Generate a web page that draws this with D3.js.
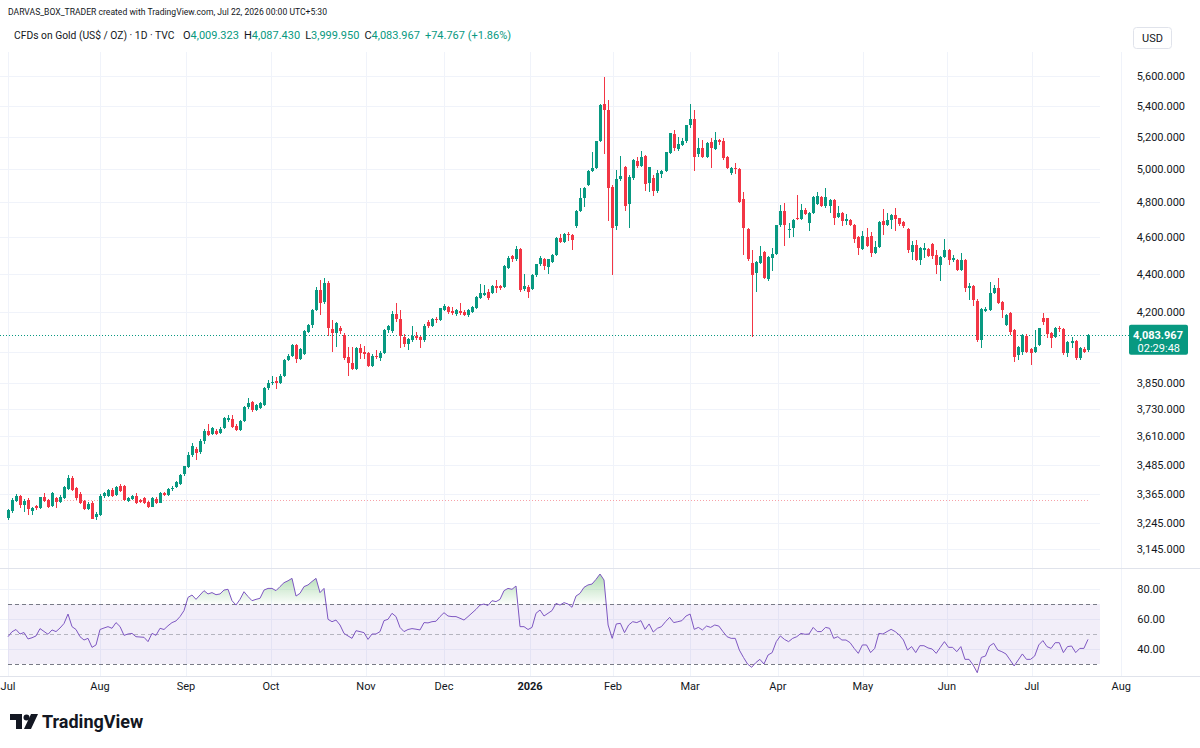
<!DOCTYPE html>
<html><head><meta charset="utf-8">
<script src="https://cdn.jsdelivr.net/npm/d3@7"></script>
<style>
html,body{margin:0;padding:0;background:#fff;}
svg{display:block;font-family:Roboto,"Liberation Sans","Noto Sans",sans-serif;}
</style></head><body>
<svg id="c" width="1200" height="748"></svg>
<script>
// ---------- DATA ----------
const opens=[3268,3295,3335,3353,3318,3337,3296,3314,3308,3349,3339,3315,3345,3332,3346,3385,3428,3386,3365,3335,3302,3325,3270,3280,3353,3356,3380,3359,3396,3398,3335,3342,3355,3338,3345,3330,3312,3342,3328,3367,3360,3382,3394,3404,3445,3476,3528,3555,3540,3590,3634,3620,3634,3625,3645,3680,3684,3655,3637,3675,3738,3764,3726,3734,3749,3826,3850,3860,3850,3885,3960,3982,4035,3965,3990,4100,4133,4210,4316,4250,4350,4115,4092,4120,4084,3973,3945,3917,4017,3998,3993,3930,3980,3968,3995,4110,4105,4190,4165,4075,4040,4060,4078,4072,4060,4150,4130,4163,4160,4212,4226,4202,4190,4205,4198,4186,4200,4220,4272,4286,4305,4296,4332,4333,4330,4432,4495,4478,4533,4320,4330,4320,4393,4450,4480,4438,4466,4502,4595,4576,4620,4612,4665,4752,4823,4900,4985,5004,5170,5415,5375,4890,4663,4940,5010,4790,4945,5050,5015,5080,4912,4945,4866,4968,4988,5098,5215,5125,5148,5170,5272,5315,5090,5131,5075,5168,5124,5180,5170,5075,4974,5004,5000,4820,4645,4456,4402,4460,4520,4372,4484,4505,4668,4752,4643,4652,4712,4706,4758,4680,4737,4791,4830,4776,4780,4815,4713,4740,4695,4700,4670,4600,4535,4600,4608,4512,4545,4690,4670,4700,4727,4708,4684,4645,4520,4557,4475,4527,4535,4562,4502,4448,4490,4530,4475,4475,4420,4472,4322,4332,4255,4058,4205,4210,4300,4322,4250,4133,4193,4108,3985,4001,4080,4013,4001,4034,4167,4167,4092,4075,4120,4112,3993,4045,4055,3969,4013,4009.323];
const highs=[3302,3345,3362,3358,3342,3345,3312,3320,3352,3367,3342,3370,3350,3360,3398,3440,3438,3392,3372,3340,3330,3334,3292,3362,3372,3385,3388,3398,3405,3402,3352,3358,3368,3342,3350,3334,3350,3350,3372,3372,3390,3396,3418,3448,3480,3540,3578,3563,3598,3640,3665,3650,3640,3650,3695,3705,3705,3662,3680,3745,3782,3768,3752,3762,3830,3865,3882,3880,3892,3965,3990,4040,4040,4020,4110,4140,4215,4330,4365,4378,4360,4160,4150,4128,4095,4025,4025,4025,4040,4030,4000,3990,4010,4005,4115,4135,4202,4245,4210,4090,4068,4130,4100,4080,4140,4160,4170,4175,4222,4242,4232,4225,4215,4245,4210,4215,4230,4282,4344,4340,4320,4342,4365,4340,4445,4495,4500,4549,4540,4397,4340,4400,4455,4495,4485,4482,4505,4600,4620,4625,4628,4618,4758,4885,4890,4995,5102,5175,5410,5595,5440,4900,4995,5080,5020,4965,5060,5075,5113,5085,4995,4960,4993,4995,5105,5225,5240,5200,5194,5278,5410,5373,5194,5180,5168,5190,5230,5188,5190,5080,5012,5034,5005,4860,4652,4530,4470,4549,4525,4495,4540,4672,4785,4795,4680,4702,4845,4790,4765,4745,4838,4864,4836,4883,4820,4820,4776,4745,4730,4705,4675,4605,4637,4652,4632,4577,4690,4760,4737,4732,4766,4712,4690,4650,4577,4583,4545,4566,4540,4570,4530,4495,4588,4535,4500,4480,4512,4478,4350,4340,4265,4220,4225,4357,4340,4377,4255,4190,4198,4112,4028,4090,4088,4018,4108,4120,4196,4170,4096,4125,4128,4116,4055,4075,4060,4022,4022,4087.43];
const lows=[3260,3288,3330,3305,3290,3280,3277,3300,3302,3330,3305,3310,3305,3328,3342,3380,3376,3340,3322,3298,3298,3262,3258,3275,3348,3350,3352,3355,3370,3335,3330,3338,3322,3326,3322,3308,3310,3324,3325,3355,3356,3376,3390,3400,3436,3470,3520,3506,3532,3576,3610,3614,3612,3618,3640,3672,3645,3630,3632,3672,3732,3718,3720,3730,3745,3820,3842,3825,3845,3880,3955,3975,3945,3960,3985,4095,4120,4205,4185,4240,4080,4000,4025,4090,3960,3885,3912,3912,3965,3965,3925,3925,3965,3955,3990,4095,4095,4150,4020,4025,4010,4050,4060,4020,4050,4120,4125,4145,4155,4205,4190,4185,4180,4185,4180,4175,4195,4215,4265,4280,4262,4290,4300,4315,4325,4428,4465,4470,4305,4310,4270,4315,4385,4440,4420,4400,4460,4498,4570,4570,4580,4530,4650,4745,4772,4895,4980,5000,5165,5090,4690,4393,4640,4925,4752,4655,4935,5005,5010,4870,4863,4835,4855,4945,4980,5090,5108,5110,5140,5160,5255,4987,5075,5065,5065,5007,5115,5148,5055,5000,4963,4968,4795,4502,4470,4075,4305,4455,4370,4362,4415,4500,4660,4549,4595,4600,4698,4700,4725,4637,4730,4785,4775,4770,4737,4668,4708,4662,4670,4665,4568,4502,4530,4545,4493,4505,4540,4613,4665,4645,4637,4664,4655,4512,4475,4470,4448,4485,4492,4480,4399,4362,4485,4448,4465,4415,4415,4305,4262,4230,4050,4018,4198,4205,4295,4240,4168,4128,4084,3953,3962,3985,3995,3935,3995,4028,4133,4067,4018,4070,4100,3985,3977,4018,3962,3962,3993,3999.95];
const closes=[3297,3339,3353,3318,3335,3302,3307,3305,3349,3335,3311,3367,3332,3349,3394,3428,3380,3346,3325,3302,3321,3264,3284,3357,3367,3380,3357,3394,3375,3340,3346,3353,3325,3330,3325,3312,3346,3328,3367,3360,3384,3390,3412,3442,3478,3528,3568,3536,3590,3634,3612,3644,3620,3642,3689,3688,3651,3637,3675,3741,3759,3726,3749,3757,3826,3852,3857,3850,3885,3960,3982,4033,3965,4013,4105,4133,4210,4316,4243,4350,4120,4092,4142,4102,3969,3945,3917,4017,3993,3990,3930,3980,3975,3995,4108,4128,4190,4165,4080,4040,4062,4078,4068,4060,4130,4128,4163,4158,4218,4232,4200,4196,4208,4192,4186,4210,4226,4279,4296,4298,4272,4336,4322,4324,4440,4487,4478,4533,4314,4332,4303,4393,4450,4487,4440,4478,4502,4595,4576,4620,4610,4585,4752,4823,4883,4985,5004,5170,5404,5370,4885,4655,4940,4955,4780,4950,5055,5015,5075,4910,5010,4865,4974,4988,5102,5222,5130,5152,5174,5272,5315,5075,5131,5075,5162,5131,5180,5165,5065,5007,5007,5000,4804,4650,4478,4394,4465,4497,4377,4490,4507,4668,4752,4670,4647,4698,4708,4758,4732,4740,4833,4838,4780,4830,4815,4708,4737,4695,4702,4670,4590,4540,4608,4552,4512,4545,4684,4670,4700,4727,4702,4675,4662,4530,4557,4475,4540,4540,4497,4497,4448,4490,4530,4475,4484,4420,4472,4322,4332,4262,4058,4213,4215,4300,4322,4245,4210,4184,4100,3977,4022,4084,4001,3993,4022,4117,4150,4089,4067,4117,4112,3993,4050,4055,3969,4018,4001,4083.967];
const rsiValues=[48.2,51.5,53,50,51,46.7,47.5,48.7,53.6,51.7,49.8,52.7,51.6,54,57,63.3,54.9,53,48.2,46,47.1,41.1,42.7,53,54,54.9,53.8,57.6,55,49.1,50,50.4,48.2,48,47.8,44.9,50.4,49.1,53.8,53,55.5,57.6,58.7,61.6,65.6,74.4,76,73.1,76,78.9,76.7,77.6,76.2,76.7,79.3,79.8,72.2,69.3,73.1,78.2,75,72.2,73.1,73.8,79.3,80.4,80.4,78.9,81.6,84.2,85.5,87.1,75.3,77.1,81.6,82.7,85,87.1,77.6,80.4,59.8,58.2,59.3,56,50.4,48.7,47.1,52.2,51.6,50.9,46.4,50,50,51.6,58.9,59.8,63.8,61.6,54.4,51.6,53,53.6,53.2,52.7,57.6,57.4,58.2,58.5,61.6,64.2,62,61.6,61.6,60.5,59.3,61.6,64,66.4,69.3,70,69,72.2,71.6,73.1,78.9,80.4,79.8,82,54.9,54.9,53,54.4,63.8,66,62,63.8,65.6,70.4,69.3,70.9,70,67.8,75.3,77.1,81.1,82.7,83.3,86.4,90,86,56,47.1,56.7,57.1,50.9,56,58.2,57.6,58.9,53.1,56.7,51.3,53.8,54.9,58.2,61.1,57.6,58.2,58.9,62,63.3,53.1,54.4,52.7,55.3,54.4,56,55.3,51.6,48.2,47.1,47.1,39.3,34.4,30,27.8,30.9,33.1,30,36,37.6,44.9,48.7,46.4,44.9,47.1,48.2,50.4,49.8,50,54.4,51.6,51.6,54.4,53.8,47.1,48.2,46,46,44.2,40.4,37.1,42.7,42.7,37.6,40.4,50.4,50,51.6,53.1,51.6,49.3,46,39.3,41.6,37.6,42.2,42.2,40.7,40,37.1,41.1,44.9,41.1,41.1,38.2,41.6,33.1,33.1,29.3,24.2,34.4,35.3,42,43.8,39.3,38.2,36.7,32.7,28.7,32.7,36.7,33.1,33.1,35.3,42.7,45.6,41.6,40.4,44.2,44.2,37.6,41.6,42,37.6,40.4,40.4,46.4];
const priceTicks=[5600,5400,5200,5000,4800,4600,4400,4200,3850,3730,3610,3485,3365,3245,3145];
const gridOnlyTicks=[4000];
const rsiTicks=[80,60,40];
const monthLabels=["Jul","Aug","Sep","Oct","Nov","Dec","2026","Feb","Mar","Apr","May","Jun","Jul","Aug"];
const monthPos=[0,23,44.5,65.75,89.5,109,130.5,151.2,170,191.4,212.1,232.6,253.3,275.1];
const lastPrice=4083.967, countdown="02:29:48", refLine=3339;
const headerLine="DARVAS_BOX_TRADER created with TradingView.com, Jul 22, 2026 00:00 UTC+5:30";
const symbolTitle="CFDs on Gold (US$ / OZ) · 1D · TVC";
const ohlcLabels=[["O","4,009.323"],["H","4,087.430"],["L","3,999.950"],["C","4,083.967"]];
const changeText="+74.767 (+1.86%)";

// ---------- CHART ----------
const UP="#089981", DN="#f23645", TXT="#131722", GRID="#f0f3fa";
const svg=d3.select("#c");
const N=closes.length;
// bars keep the reference's spacing: the 2025 part and the 2026 part as measured
const x=d3.scaleLinear().domain([0,149,N-1]).range([8,604,1088]);
const y=d3.scaleLog().domain([3145,5600]).range([549,76]);
const yR=d3.scaleLinear().domain([30,70]).range([664,604]);
const fmt=d3.format(",.3f");

// grid
const g=svg.append("g");
g.selectAll("line.h").data(priceTicks.concat(gridOnlyTicks)).join("line")
 .attr("x1",0).attr("x2",1100).attr("y1",d=>Math.round(y(d))+0.5).attr("y2",d=>Math.round(y(d))+0.5)
 .attr("stroke",GRID).attr("stroke-width",1);
g.selectAll("line.v").data(monthPos).join("line")
 .attr("x1",d=>Math.round(x(d))+0.5).attr("x2",d=>Math.round(x(d))+0.5).attr("y1",52).attr("y2",676)
 .attr("stroke",GRID);
g.selectAll("line.r").data(rsiTicks).join("line")
 .attr("x1",0).attr("x2",1100).attr("y1",d=>Math.round(yR(d))+0.5).attr("y2",d=>Math.round(yR(d))+0.5)
 .attr("stroke",GRID);

// pane separators
svg.append("line").attr("x1",0).attr("x2",1200).attr("y1",568.5).attr("y2",568.5).attr("stroke","#e0e3eb");
svg.append("line").attr("x1",0).attr("x2",1200).attr("y1",676.5).attr("y2",676.5).attr("stroke","#e0e3eb");

// reference dotted line
svg.append("line").attr("x1",55).attr("x2",1090).attr("y1",Math.round(y(refLine))+0.5).attr("y2",Math.round(y(refLine))+0.5)
 .attr("stroke","#f7a1a8").attr("stroke-width",1).attr("stroke-dasharray","1 2");

// last price dotted line
svg.append("line").attr("x1",0).attr("x2",1130).attr("y1",Math.round(y(lastPrice))+0.5).attr("y2",Math.round(y(lastPrice))+0.5)
 .attr("stroke",UP).attr("stroke-width",1).attr("stroke-dasharray","1 2");

// candles
const idx=d3.range(N);
const cg=svg.append("g").attr("shape-rendering","crispEdges");
cg.selectAll("line.w").data(idx).join("line")
 .attr("x1",i=>Math.round(x(i))+0.5).attr("x2",i=>Math.round(x(i))+0.5)
 .attr("y1",i=>y(highs[i])).attr("y2",i=>y(lows[i]))
 .attr("stroke",i=>closes[i]>=opens[i]?UP:DN).attr("stroke-width",1);
cg.selectAll("rect.b").data(idx).join("rect")
 .attr("x",i=>Math.round(x(i))-1).attr("width",3)
 .attr("y",i=>y(Math.max(opens[i],closes[i])))
 .attr("height",i=>Math.max(1,Math.abs(y(opens[i])-y(closes[i]))))
 .attr("fill",i=>closes[i]>=opens[i]?UP:DN);

// price axis labels
svg.append("g").selectAll("text").data(priceTicks).join("text")
 .attr("x",1185).attr("y",d=>y(d)+4).attr("text-anchor","end")
 .attr("font-size",11).attr("fill",TXT).text(d=>fmt(d));

// last price label
const ly=y(lastPrice);
svg.append("rect").attr("x",1129).attr("y",ly-10).attr("width",59).attr("height",30).attr("rx",2).attr("fill",UP);
svg.append("text").attr("x",1183).attr("y",ly+4).attr("text-anchor","end").attr("font-size",11).attr("font-weight","bold").attr("fill","#fff").text(fmt(lastPrice));
svg.append("text").attr("x",1180).attr("y",ly+17).attr("text-anchor","end").attr("font-size",11).attr("fill","#fff").text(countdown);

// USD box
svg.append("rect").attr("x",1133.5).attr("y",27.5).attr("width",38).attr("height",21).attr("rx",3).attr("fill","#fff").attr("stroke","#e0e3eb");
svg.append("text").attr("x",1152.5).attr("y",42).attr("text-anchor","middle").attr("font-size",11).attr("fill",TXT).text("USD");

// RSI pane
const defs=svg.append("defs");
const gu=defs.append("linearGradient").attr("id","gUp").attr("gradientUnits","userSpaceOnUse").attr("x1",0).attr("x2",0).attr("y1",yR(95)).attr("y2",yR(70));
gu.append("stop").attr("offset",0).attr("stop-color","rgb(76,175,80)").attr("stop-opacity",0.55);
gu.append("stop").attr("offset",1).attr("stop-color","rgb(76,175,80)").attr("stop-opacity",0.02);
const gd=defs.append("linearGradient").attr("id","gDn").attr("gradientUnits","userSpaceOnUse").attr("x1",0).attr("x2",0).attr("y1",yR(30)).attr("y2",yR(5));
gd.append("stop").attr("offset",0).attr("stop-color","rgb(242,54,69)").attr("stop-opacity",0.02);
gd.append("stop").attr("offset",1).attr("stop-color","rgb(242,54,69)").attr("stop-opacity",0.55);
defs.append("clipPath").attr("id","cUp").append("rect").attr("x",0).attr("y",569).attr("width",1100).attr("height",yR(70)-569);
defs.append("clipPath").attr("id","cDn").append("rect").attr("x",0).attr("y",yR(30)).attr("width",1100).attr("height",676-yR(30));
defs.append("clipPath").attr("id","cR").append("rect").attr("x",0).attr("y",569).attr("width",1100).attr("height",107);

svg.append("rect").attr("x",8).attr("y",yR(70)).attr("width",1092).attr("height",yR(30)-yR(70)).attr("fill","rgba(126,87,194,0.1)");
[[70,"#787b86"],[50,"rgba(120,123,134,0.5)"],[30,"#787b86"]].forEach(([v,c])=>{
  svg.append("line").attr("x1",8).attr("x2",1100).attr("y1",Math.round(yR(v))+0.5).attr("y2",Math.round(yR(v))+0.5)
   .attr("stroke",c).attr("stroke-dasharray","4 3");
});
const area=d3.area().x((d,i)=>x(i)).y1(d=>yR(d));
svg.append("path").datum(rsiValues).attr("clip-path","url(#cUp)").attr("fill","url(#gUp)").attr("d",area.y0(yR(70)));
svg.append("path").datum(rsiValues).attr("clip-path","url(#cDn)").attr("fill","url(#gDn)").attr("d",area.y0(yR(30)));
svg.append("path").datum(rsiValues).attr("clip-path","url(#cR)").attr("fill","none").attr("stroke","#7e57c2").attr("stroke-width",1)
 .attr("d",d3.line().x((d,i)=>x(i)).y(d=>yR(d)));
svg.append("g").selectAll("text").data(rsiTicks).join("text")
 .attr("x",1165).attr("y",d=>yR(d)+4).attr("text-anchor","end").attr("font-size",11).attr("fill",TXT).text(d=>d3.format(".2f")(d));

// time axis
svg.append("g").selectAll("text").data(monthLabels).join("text")
 .attr("x",(d,i)=>x(monthPos[i])).attr("y",690).attr("text-anchor","middle")
 .attr("font-size",11).attr("font-weight",d=>d==="2026"?"bold":"normal").attr("fill",TXT).text(d=>d);

// header
svg.append("text").attr("x",8).attr("y",15).attr("font-size",9).attr("textLength",319).attr("lengthAdjust","spacingAndGlyphs").attr("fill",TXT).text(headerLine);
svg.append("text").attr("x",14).attr("y",39).attr("font-size",10.3).attr("fill",TXT).text(symbolTitle);
const hl=svg.append("text").attr("x",183).attr("y",39).attr("font-size",11).attr("fill",TXT);
ohlcLabels.forEach(([k,v],i)=>{
  hl.append("tspan").attr("dx",i?5:0).attr("fill",TXT).text(k);
  hl.append("tspan").attr("fill",UP).text(v);
});
hl.append("tspan").attr("dx",5).attr("fill",UP).text(changeText);

// TradingView logo
const lg=svg.append("g").attr("fill",TXT);
lg.append("path").attr("d","M10,714 h12 v15 h-6 v-9 h-6 z");
lg.append("circle").attr("cx",26.5).attr("cy",717.5).attr("r",3);
lg.append("path").attr("d","M31,714 h7 l-7,15 h-7 z");
svg.append("text").attr("x",42).attr("y",728).attr("font-size",18).attr("font-weight","bold").attr("fill",TXT).text("TradingView");
</script>
</body></html>
